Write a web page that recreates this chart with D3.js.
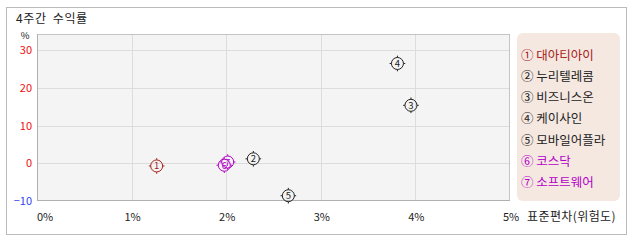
<!DOCTYPE html>
<html><head><meta charset="utf-8">
<script src="https://cdn.jsdelivr.net/npm/d3@7"></script>
<style>body{margin:0;background:#fff}svg{display:block}text{font-family:"Noto Sans CJK KR","Noto Sans",sans-serif}</style>
</head><body><svg id="c" width="638" height="242"></svg>
<script>
const title = "4주간 수익률";
const names = ["대아티아이","누리텔레콤","비즈니스온","케이사인","모바일어플라","코스닥","소프트웨어"];
const marks = ["①","②","③","④","⑤","⑥","⑦"];
const risk = [1.265, 2.287, 3.953, 3.81, 2.657, 1.98, 2.016];
const ret = [-0.7, 1.2, 15.4, 26.5, -8.6, -0.5, 0.35];
const colors = ["#a8201a","#222","#222","#222","#222","#b400c8","#b400c8"];
const xTicks = [0,1,2,3,4,5];
const yTicks = [-10,0,10,20,30];
const xTitle = "표준편차(위험도)";

const svg = d3.select("#c");
svg.append("rect").attr("x",6.5).attr("y",7.5).attr("width",620).attr("height",227).attr("fill","#fff").attr("stroke","#bbb");
svg.append("text").attr("x",16).attr("y",23).attr("font-size",12).attr("letter-spacing",0.6).attr("word-spacing",3).attr("fill","#222").text(title);

const x = d3.scaleLinear().domain([0,5]).range([37,510]);
const y = d3.scaleLinear().domain([-10,30]).range([201,50.3]);
const plotTop = 34;

svg.append("rect").attr("x",37).attr("y",plotTop).attr("width",473).attr("height",201-plotTop).attr("fill","#f4f4f4");
const g = svg.append("g");
g.selectAll(".vx").data(xTicks.slice(1,-1)).join("line")
  .attr("x1",d=>Math.round(x(d))+0.5).attr("x2",d=>Math.round(x(d))+0.5).attr("y1",plotTop).attr("y2",201).attr("stroke","#dcdcdc");
g.selectAll(".hy").data(yTicks.slice(1)).join("line")
  .attr("y1",d=>Math.round(y(d))+0.5).attr("y2",d=>Math.round(y(d))+0.5).attr("x1",37).attr("x2",510).attr("stroke","#dcdcdc");
svg.append("rect").attr("x",37.5).attr("y",plotTop+0.5).attr("width",472).attr("height",201-plotTop-1).attr("fill","none").attr("stroke","#c4c4c4");
svg.append("line").attr("x1",37.5).attr("x2",37.5).attr("y1",plotTop).attr("y2",201).attr("stroke","#b0b0b0");
svg.append("line").attr("x1",37).attr("x2",510).attr("y1",200.5).attr("y2",200.5).attr("stroke","#b0b0b0");

// y tick labels
svg.selectAll(".yl").data(yTicks).join("text")
  .attr("x",32).attr("y",d=>y(d)+4).attr("text-anchor","end").attr("font-size",11)
  .attr("fill",d=>d<0?"#3344ee":"#ee1111").text(d=>d<0?"\u2212"+Math.abs(d):d);
svg.append("text").attr("x",25).attr("y",38.5).attr("text-anchor","middle").attr("font-size",9.5).attr("fill","#222").text("%");

// x tick labels
svg.selectAll(".xl").data(xTicks).join("text")
  .attr("x",d=>d===0?x(d):x(d)+1).attr("y",221).attr("text-anchor",d=>d===0?"start":"middle").attr("font-size",11)
  .attr("fill","#222").text(d=>d+"%");
svg.append("text").attr("x",527).attr("y",221).attr("font-size",12).attr("letter-spacing",0.4).attr("fill","#222").text(xTitle);

// points
const data = names.map((n,i)=>({n,m:marks[i],x:risk[i],y:ret[i],c:colors[i]}));
const pg = svg.selectAll(".pt").data(data).join("g").attr("transform",d=>`translate(${x(d.x)},${y(d.y)})`);
pg.append("circle").attr("r",6).attr("fill","none").attr("stroke",d=>d.c).attr("stroke-width",1);
pg.each(function(d){
  const s=d3.select(this);
  [[0,-6,0,-7.8],[0,6,0,7.8],[-6,0,-7.8,0],[6,0,7.8,0]].forEach(a=>s.append("line").attr("x1",a[0]).attr("y1",a[1]).attr("x2",a[2]).attr("y2",a[3]).attr("stroke",d.c).attr("stroke-width",1));
});
pg.append("text").attr("text-anchor","middle").attr("y",3.5).attr("font-size",9.5).attr("fill",d=>d.c).text((d,i)=>i+1);

// legend
svg.append("rect").attr("x",517).attr("y",33).attr("width",103).attr("height",168).attr("rx",6).attr("fill","#f5e8e1");
svg.selectAll(".lg").data(data).join("text")
  .attr("x",521).attr("y",(d,i)=>59.5+i*21.3).attr("font-size",12.5).attr("fill",d=>d.c)
  .text(d=>d.m+" "+d.n);
</script></body></html>
